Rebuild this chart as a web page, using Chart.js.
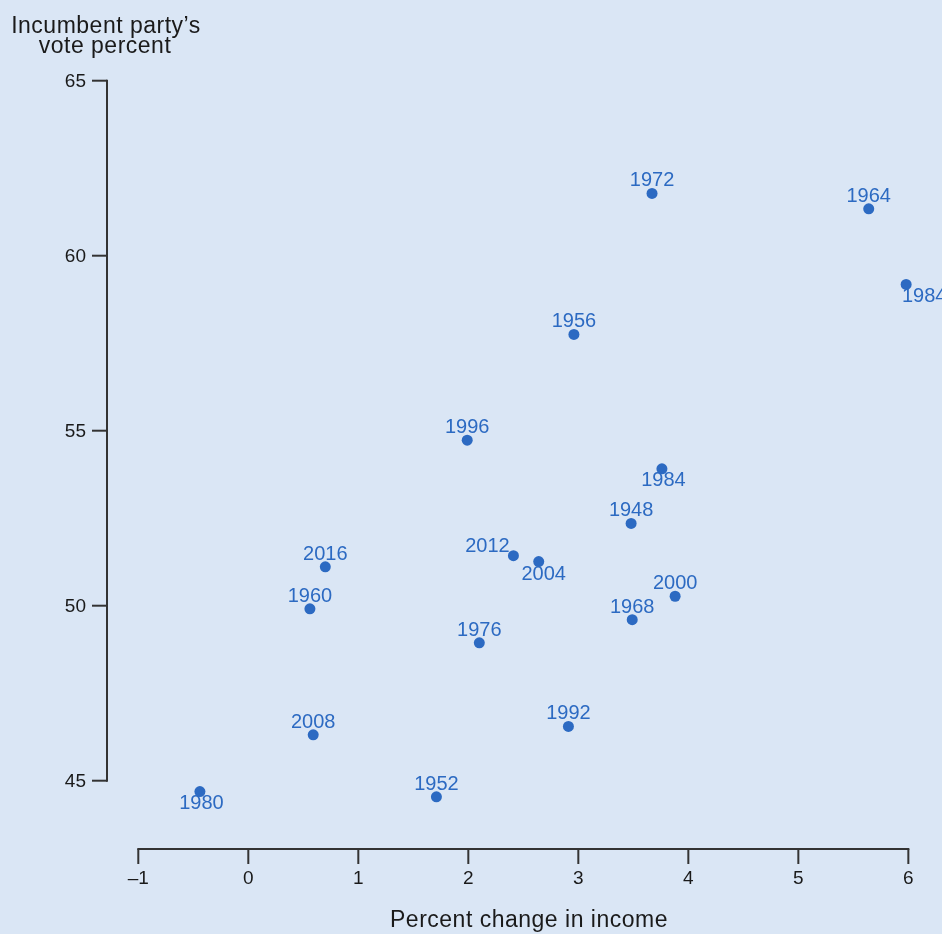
<!DOCTYPE html>
<html>
<head>
<meta charset="utf-8">
<script src="https://cdn.jsdelivr.net/npm/chart.js@4.4.0/dist/chart.umd.min.js"></script>
<style>
  html, body { margin: 0; padding: 0; background: #dae6f5; overflow: hidden; }
  #wrap { width: 942px; height: 934px; position: relative; }
  canvas { display: block; }
</style>
</head>
<body>
<div id="wrap"><canvas id="c" width="942" height="934"></canvas></div>
<script>
// ---- Data ----
const years         = ['1972','1964','1984','1956','1996','1984','1948','2016','2012','2004','2000','1960','1968','1976','1992','2008','1980','1952'];
const incomeChange  = [3.67, 5.64, 5.98, 2.96, 1.99, 3.76, 3.48, 0.70, 2.41, 2.64, 3.88, 0.56, 3.49, 2.10, 2.91, 0.59, -0.44, 1.71];
const votePercent   = [61.78, 61.34, 59.18, 57.75, 54.73, 53.91, 52.35, 51.11, 51.43, 51.26, 50.27, 49.91, 49.60, 48.94, 46.55, 46.31, 44.69, 44.54];
const labelPlacement = ['above','above','rightBelow','above','above','below','above','above','upLeft','belowRight','above','above','above','above','above','above','below','above'];

const xTicks      = [-1, 0, 1, 2, 3, 4, 5, 6];
const xTickLabels = ['\u20131', '0', '1', '2', '3', '4', '5', '6'];
const yTicks      = [45, 50, 55, 60, 65];
const yTickLabels = ['45', '50', '55', '60', '65'];
const xTitle      = 'Percent change in income';
const yTitleLines = ['Incumbent party\u2019s', 'vote percent'];

// ---- Styles ----
const BG = '#dae6f5';
const DOT = '#2c6ac2';
const LABEL = '#2c6ac2';
const AXIS = '#333333';
const TEXT = '#1a1a1a';
const FONT = '"Liberation Sans", Arial, Helvetica, sans-serif';

const placementOffsets = {
  above:      { dx: 0,   dy: -7 },
  below:      { dx: 1.5, dy: 17.5 },
  upLeft:     { dx: -26, dy: -4 },
  belowRight: { dx: 5,   dy: 18.5 },
  rightBelow: { dx: 18,  dy: 17.5 }
};

const decor = {
  id: 'decor',
  beforeDraw(chart) {
    const ctx = chart.ctx;
    ctx.save();
    ctx.fillStyle = BG;
    ctx.fillRect(0, 0, chart.width, chart.height);
    ctx.restore();
  },
  afterDatasetsDraw(chart) {
    const ctx = chart.ctx;
    const xs = chart.scales.x, ys = chart.scales.y;
    const ca = chart.chartArea;
    ctx.save();
    ctx.strokeStyle = AXIS;
    ctx.lineWidth = 2;
    ctx.lineCap = 'butt';

    // Y axis
    const yAxisX = ca.left;
    const yTop = ys.getPixelForValue(yTicks[yTicks.length - 1]);
    const yBot = ys.getPixelForValue(yTicks[0]);
    ctx.beginPath();
    ctx.moveTo(yAxisX, yTop - 1);
    ctx.lineTo(yAxisX, yBot + 1);
    ctx.stroke();
    ctx.font = '19px ' + FONT;
    ctx.fillStyle = TEXT;
    ctx.textAlign = 'right';
    ctx.textBaseline = 'middle';
    yTicks.forEach((v, i) => {
      const py = ys.getPixelForValue(v);
      ctx.beginPath();
      ctx.moveTo(yAxisX - 15, py);
      ctx.lineTo(yAxisX, py);
      ctx.stroke();
      ctx.fillText(yTickLabels[i], yAxisX - 21, py + 1);
    });

    // X axis
    const xAxisY = ca.bottom;
    const xL = xs.getPixelForValue(xTicks[0]);
    const xR = xs.getPixelForValue(xTicks[xTicks.length - 1]);
    ctx.beginPath();
    ctx.moveTo(xL - 1, xAxisY);
    ctx.lineTo(xR + 1, xAxisY);
    ctx.stroke();
    ctx.textAlign = 'center';
    ctx.textBaseline = 'alphabetic';
    xTicks.forEach((v, i) => {
      const px = xs.getPixelForValue(v);
      ctx.beginPath();
      ctx.moveTo(px, xAxisY);
      ctx.lineTo(px, xAxisY + 15);
      ctx.stroke();
      ctx.fillText(xTickLabels[i], px, xAxisY + 35);
    });

    // Axis titles
    ctx.font = '23px ' + FONT;
    ctx.letterSpacing = '0.5px';
    ctx.fillStyle = TEXT;
    ctx.textAlign = 'center';
    ctx.fillText(xTitle, 529, 927);
    ctx.fillText(yTitleLines[0], 106, 32.5);
    ctx.fillText(yTitleLines[1], 105, 52.5);
    ctx.letterSpacing = '0px';

    // Point labels
    const meta = chart.getDatasetMeta(0);
    ctx.font = '20px ' + FONT;
    ctx.fillStyle = LABEL;
    ctx.textAlign = 'center';
    meta.data.forEach((el, i) => {
      const off = placementOffsets[labelPlacement[i]] || placementOffsets.above;
      ctx.fillText(years[i], el.x + off.dx, el.y + off.dy);
    });
    ctx.restore();
  }
};

const points = incomeChange.map((x, i) => ({ x: x, y: votePercent[i] }));

new Chart(document.getElementById('c'), {
  type: 'scatter',
  data: {
    datasets: [{
      data: points,
      backgroundColor: DOT,
      borderColor: DOT,
      borderWidth: 0,
      pointRadius: 5.5,
      pointHoverRadius: 5.5,
      clip: false
    }]
  },
  options: {
    responsive: false,
    maintainAspectRatio: false,
    devicePixelRatio: 1,
    animation: false,
    layout: { autoPadding: false, padding: { left: 107, right: 0, top: 80.7, bottom: 85 } },
    plugins: { legend: { display: false }, tooltip: { enabled: false } },
    scales: {
      x: { type: 'linear', display: false, min: -1.2845, max: 6.306 },
      y: { type: 'linear', display: false, min: 65 - 768.3 / 35, max: 65 }
    }
  },
  plugins: [decor]
});
</script>
</body>
</html>
